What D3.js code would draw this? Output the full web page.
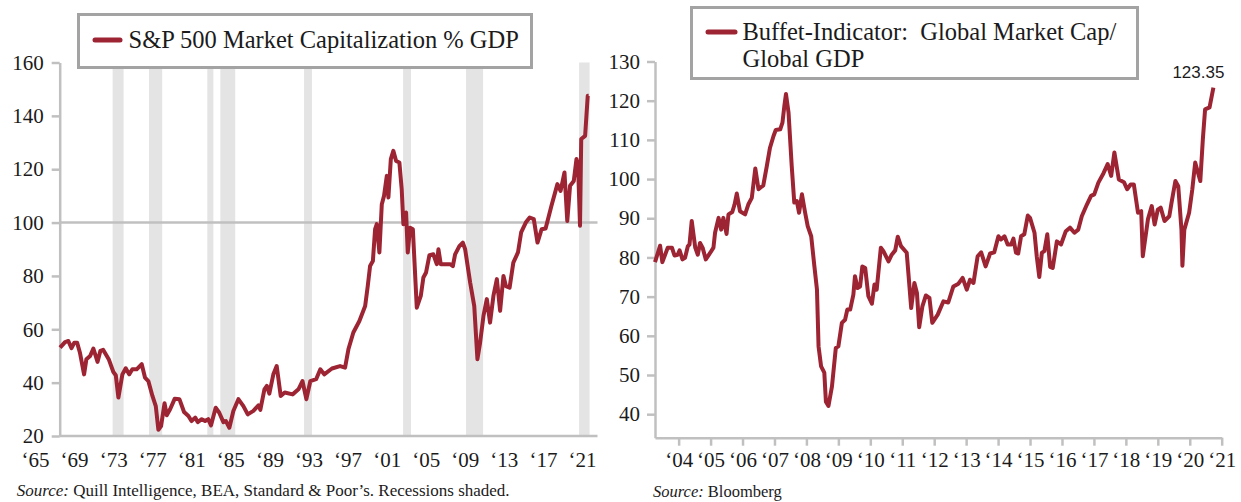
<!DOCTYPE html>
<html>
<head>
  <meta charset="utf-8">
  <title>Market cap to GDP</title>
  <script src="https://cdn.jsdelivr.net/npm/d3@7"></script>
  <style>
    body {
      margin: 0;
      background: #fff;
    }
    svg text {
      font-family: "Liberation Serif", "Times New Roman", serif;
      fill: #1b1b1b;
    }
  </style>
</head>
<body>
<svg id="chart" width="1241" height="502"></svg>
<script>
// ---- left panel: S&P 500 market cap % GDP
var spYears = [1964.27, 1964.8, 1965.16, 1965.5, 1965.8, 1966.1, 1966.4, 1966.85, 1967.1, 1967.5,
  1967.85, 1968.3, 1968.6, 1968.9, 1969.5, 1970.0, 1970.26, 1970.54, 1970.97, 1971.33,
  1971.7, 1972.04, 1972.5, 1973.05, 1973.4, 1973.76, 1974.2, 1974.56, 1974.84, 1975.13,
  1975.5, 1975.74, 1976.1, 1976.6, 1977.1, 1977.6, 1978.07, 1978.4, 1978.8, 1979.07,
  1979.5, 1979.86, 1980.2, 1980.5, 1981.0, 1981.37, 1981.83, 1982.1, 1982.47, 1982.9,
  1983.44, 1983.98, 1984.45, 1985.05, 1985.6, 1985.8, 1986.24, 1986.5, 1986.77, 1987.2,
  1987.56, 1987.99, 1988.42, 1989.27, 1989.9, 1990.33, 1990.75, 1991.18, 1991.8, 1992.25,
  1992.67, 1993.5, 1994.37, 1994.91, 1995.27, 1995.8, 1996.45, 1997.07, 1997.35, 1997.6,
  1997.9, 1998.14, 1998.32, 1998.6, 1998.86, 1999.1, 1999.4, 1999.57, 1999.83, 2000.1,
  2000.4, 2000.75, 2001.0, 2001.18, 2001.47, 2001.65, 2001.9, 2002.2, 2002.62, 2003.05,
  2003.33, 2003.62, 2003.98, 2004.4, 2004.77, 2004.95, 2005.2, 2006.2, 2006.5, 2006.74,
  2007.2, 2007.57, 2007.82, 2008.36, 2008.8, 2009.14, 2009.43, 2009.79, 2010.15, 2010.5,
  2010.86, 2011.23, 2011.58, 2011.94, 2012.2, 2012.6, 2013.0, 2013.5, 2013.84, 2014.34,
  2014.76, 2015.2, 2015.6, 2016.04, 2016.47, 2017.1, 2017.74, 2018.08, 2018.5, 2018.8,
  2019.1, 2019.5, 2019.79, 2019.96, 2020.17, 2020.3, 2020.72, 2021.0, 2021.1];
var spValues = [53.1, 55.2, 55.6, 52.9, 55, 55, 51.3, 43.1, 48.8, 50,
  52.8, 47.8, 51.9, 52.3, 48.8, 44, 42.8, 34.4, 43.1, 45.4,
  43.1, 45, 45, 46.9, 41.9, 40.6, 35, 31.2, 22.3, 23.7,
  32.3, 27.8, 30, 34, 33.8, 29, 27.5, 25.6, 26.9, 25.2,
  26.3, 25.6, 26.3, 24, 30.6, 28.8, 25.2, 25.6, 23.1, 29.4,
  33.8, 31.2, 28.1, 29.4, 31.5, 29.8, 37.5, 38.8, 35.9, 43.1,
  46.2, 35, 36.3, 35.6, 37.5, 40.6, 33.8, 40.6, 41.3, 45,
  43.1, 45.3, 46.2, 45.6, 52.5, 58.8, 63.1, 68.7, 76.2, 83.7,
  85.6, 97.5, 99.4, 88.8, 106.9, 110, 117.5, 109.4, 123.8, 126.9,
  123.1, 122.5, 112.5, 99.4, 103.8, 88.8, 98.1, 97.5, 68.1, 72.5,
  79.4, 81.3, 87.8, 88.1, 84.4, 90, 84.4, 84.4, 83.7, 88.1,
  91.2, 92.5, 90, 77.5, 68.7, 48.8, 55, 65, 71.3, 62.5,
  72.5, 78.8, 66.9, 80, 76.2, 75.6, 85, 88.8, 96.3, 100,
  101.9, 101.3, 92.5, 97.5, 97.8, 106.3, 114.4, 111.9, 118.8, 100.6,
  113.8, 115.6, 123.8, 121.3, 98.8, 131.3, 132.5, 147.5, 147.5];
var recessions = [[1969.92, 1971.1], [1973.83, 1975.25], [1980.1, 1980.75], [1981.5, 1983.1],
  [1990.5, 1991.35], [2001.15, 2002.0], [2007.92, 2009.75], [2020.07, 2021.2]];
var spTicks = [20, 40, 60, 80, 100, 120, 140, 160];
var spLabels = ["‘65", "‘69", "‘73", "‘77", "‘81", "‘85", "‘89", "‘93", "‘97", "‘01",
  "‘05", "‘09", "‘13", "‘17", "‘21"];

// ---- right panel: global market cap / global GDP
var bgYears = [2003.76, 2003.92, 2003.99, 2004.16, 2004.29, 2004.37, 2004.47, 2004.53, 2004.62, 2004.7,
  2004.79, 2004.84, 2004.91, 2005.02, 2005.1, 2005.17, 2005.25, 2005.35, 2005.49, 2005.59,
  2005.64, 2005.75, 2005.83, 2005.9, 2006.0, 2006.06, 2006.18, 2006.25, 2006.32, 2006.42,
  2006.58, 2006.68, 2006.79, 2006.9, 2007.0, 2007.15, 2007.26, 2007.36, 2007.47, 2007.54,
  2007.68, 2007.75, 2007.81, 2007.86, 2007.94, 2008.04, 2008.12, 2008.2, 2008.27, 2008.36,
  2008.46, 2008.54, 2008.65, 2008.75, 2008.83, 2008.88, 2008.96, 2009.06, 2009.11, 2009.19,
  2009.3, 2009.42, 2009.5, 2009.61, 2009.71, 2009.78, 2009.87, 2009.97, 2010.02, 2010.1,
  2010.18, 2010.25, 2010.34, 2010.44, 2010.55, 2010.63, 2010.7, 2010.83, 2010.91, 2011.07,
  2011.17, 2011.28, 2011.36, 2011.46, 2011.64, 2011.78, 2011.88, 2011.96, 2012.03, 2012.13,
  2012.24, 2012.35, 2012.44, 2012.61, 2012.79, 2012.94, 2013.1, 2013.26, 2013.39, 2013.52,
  2013.62, 2013.73, 2013.86, 2013.97, 2014.11, 2014.25, 2014.38, 2014.51, 2014.59, 2014.7,
  2014.8, 2014.91, 2014.98, 2015.06, 2015.13, 2015.22, 2015.32, 2015.43, 2015.5, 2015.64,
  2015.71, 2015.79, 2015.87, 2015.95, 2016.04, 2016.13, 2016.21, 2016.34, 2016.47, 2016.62,
  2016.75, 2016.89, 2017.01, 2017.12, 2017.28, 2017.41, 2017.51, 2017.64, 2017.8, 2017.93,
  2018.04, 2018.14, 2018.28, 2018.44, 2018.54, 2018.65, 2018.75, 2018.88, 2018.98, 2019.03,
  2019.19, 2019.31, 2019.4, 2019.5, 2019.59, 2019.71, 2019.86, 2019.93, 2020.05, 2020.14,
  2020.24, 2020.27, 2020.33, 2020.48, 2020.58, 2020.67, 2020.83, 2020.91, 2020.98, 2021.12,
  2021.24];
var bgValues = [78.8, 83, 78.8, 82.5, 82.5, 80.5, 80.7, 81.8, 79.5, 79.9,
  82.9, 83.3, 89.3, 82.5, 80.7, 83.7, 82.5, 79.5, 81.2, 82.5,
  86.3, 90.1, 87.1, 90.1, 86, 91, 91.6, 93.5, 96.3, 91.8,
  91, 93.5, 95.2, 102.7, 97.4, 98.4, 103.3, 108, 111, 112.5,
  112.7, 114.4, 118.7, 121.7, 117, 103.3, 94, 94.4, 91.4, 96.1,
  91.4, 88, 85.4, 77.7, 71.8, 57.3, 52.2, 50.6, 43.2, 42.1,
  47.1, 56.9, 57.3, 63.3, 64.1, 66.7, 66.7, 70.5, 75.2, 72.2,
  72.6, 77.7, 77.3, 70.1, 68.2, 73.1, 71.8, 82.5, 81.6, 79,
  80.7, 81.8, 85.3, 82.9, 81.2, 67.1, 73.5, 70.9, 62.2, 67.5,
  70.3, 69.7, 63.3, 65.4, 68.8, 68.5, 72.6, 73.3, 74.8, 71.8,
  74.3, 73.5, 80.3, 81.3, 77.7, 81, 81.3, 85.4, 84.6, 85.4,
  83.3, 83.3, 84.8, 81.2, 81, 85.4, 85.9, 90.7, 90.1, 86.3,
  80.3, 75, 81.2, 81.6, 85.9, 77.6, 77.3, 84.1, 83.3, 86.7,
  87.6, 86.3, 87.1, 90.5, 93.5, 95.7, 96.1, 99.1, 101.5, 103.8,
  100.8, 106.8, 99.9, 99.2, 97.4, 98.6, 98.6, 91.4, 91.8, 80.3,
  89.7, 93.1, 88.4, 92.2, 92.7, 89.3, 90.5, 94, 99.5, 98.2,
  87.1, 77.9, 87.1, 91.4, 97.4, 104.2, 99.5, 110.2, 117.8, 118.3,
  123.35];
var bgTicks = [40, 50, 60, 70, 80, 90, 100, 110, 120, 130];
var bgTickYears = [2004, 2005, 2006, 2007, 2008, 2009, 2010, 2011, 2012, 2013,
  2014, 2015, 2016, 2017, 2018, 2019, 2020, 2021];

var red = "#9d2433";
var axisGrey = "#c0c0c0";
var svg = d3.select("#chart");

function zip(xs, ys) {
  return xs.map(function(x, i) { return {year: x, value: ys[i]}; });
}

function styleAxis(g) {
  g.selectAll("path.domain").attr("stroke", axisGrey).attr("stroke-width", 2.5);
  g.selectAll(".tick line").attr("stroke", axisGrey).attr("stroke-width", 2.5);
  g.selectAll("text").attr("fill", "#1b1b1b").style("font-family", "Liberation Serif")
    .style("font-size", "21px");
}

// ================= left chart =================
var xL = d3.scaleLinear().domain([1964.23, 2022.05]).range([59.7, 597.5]);
var yL = d3.scaleLinear().domain([20, 160]).range([436, 62.5]);

var left = svg.append("g");

left.selectAll("rect.rec")
  .data(recessions)
  .enter().append("rect")
  .attr("class", "rec")
  .attr("x", function(d) { return xL(d[0]); })
  .attr("width", function(d) { return xL(d[1]) - xL(d[0]); })
  .attr("y", yL(160))
  .attr("height", yL(20) - yL(160))
  .attr("fill", "#e4e4e4");

// the 100 line
left.append("line")
  .attr("x1", xL.range()[0]).attr("x2", xL.range()[1])
  .attr("y1", yL(100)).attr("y2", yL(100))
  .attr("stroke", axisGrey).attr("stroke-width", 2.5);

// bottom axis line (no ticks on this one)
left.append("line")
  .attr("x1", xL.range()[0]).attr("x2", xL.range()[1])
  .attr("y1", yL(20)).attr("y2", yL(20))
  .attr("stroke", axisGrey).attr("stroke-width", 2.5);

var yAxisL = left.append("g")
  .attr("transform", "translate(" + xL.range()[0] + ",0)")
  .call(d3.axisLeft(yL).tickValues(spTicks).tickSizeInner(8).tickSizeOuter(0).tickPadding(8));
styleAxis(yAxisL);

// year labels are spread evenly, like a category axis
var labL = d3.scalePoint().domain(spLabels).range([35, 582]);
var xAxisL = left.append("g")
  .attr("transform", "translate(0," + yL(20) + ")")
  .call(d3.axisBottom(labL).tickSize(0));
xAxisL.select("path.domain").remove();
styleAxis(xAxisL);
xAxisL.selectAll("text").attr("dy", null).attr("y", 30.7);

left.append("path")
  .datum(zip(spYears, spValues))
  .attr("fill", "none")
  .attr("stroke", red)
  .attr("stroke-width", 4)
  .attr("stroke-linejoin", "round")
  .attr("d", d3.line().x(function(d) { return xL(d.year); }).y(function(d) { return yL(d.value); }));

// legend
left.append("rect")
  .attr("x", 78.5).attr("y", 14.5).attr("width", 453).attr("height", 53)
  .attr("fill", "#fff").attr("stroke", "#a3a3a3").attr("stroke-width", 3);
left.append("line")
  .attr("x1", 95).attr("x2", 120).attr("y1", 40).attr("y2", 40)
  .attr("stroke", red).attr("stroke-width", 5).attr("stroke-linecap", "round");
left.append("text")
  .attr("x", 128.5).attr("y", 48.3)
  .style("font-size", "24.5px")
  .text("S&P 500 Market Capitalization % GDP");

var srcL = left.append("text").attr("x", 16.7).attr("y", 496).style("font-size", "17px");
srcL.append("tspan").style("font-style", "italic").text("Source:");
srcL.append("tspan").text(" Quill Intelligence, BEA, Standard & Poor’s. Recessions shaded.");

// ================= right chart =================
var xR = d3.scaleLinear().domain([2003.76, 2021.5]).range([655, 1221.7]);
var yR = d3.scaleLinear().domain([34, 130]).range([437.7, 61.5]);

var right = svg.append("g");

var yAxisR = right.append("g")
  .attr("transform", "translate(" + xR.range()[0] + ",0)")
  .call(d3.axisLeft(yR).tickValues(bgTicks).tickSizeInner(8).tickSizeOuter(0).tickPadding(7));
styleAxis(yAxisR);

// year labels sit at mid-year
var xAxisR = right.append("g")
  .attr("transform", "translate(0," + yR(34) + ")")
  .call(d3.axisBottom(xR)
    .tickValues(bgTickYears.map(function(y) { return y + 0.5; }))
    .tickFormat(function(d) { return "‘" + String(Math.floor(d)).slice(2); })
    .tickSizeInner(8).tickSizeOuter(0));
styleAxis(xAxisR);
xAxisR.selectAll("text").attr("dy", null).attr("y", 29);

var bg = zip(bgYears, bgValues);
right.append("path")
  .datum(bg)
  .attr("fill", "none")
  .attr("stroke", red)
  .attr("stroke-width", 4)
  .attr("stroke-linejoin", "round")
  .attr("d", d3.line().x(function(d) { return xR(d.year); }).y(function(d) { return yR(d.value); }));

var last = bg[bg.length - 1];
right.append("text")
  .attr("x", xR(last.year) - 15).attr("y", yR(last.value) - 10)
  .attr("text-anchor", "middle")
  .style("font-family", "Liberation Sans, Arial, sans-serif")
  .style("font-size", "17px")
  .text(d3.format(".2f")(last.value));

right.append("rect")
  .attr("x", 691.5).attr("y", 7.5).attr("width", 446).attr("height", 71)
  .attr("fill", "#fff").attr("stroke", "#a3a3a3").attr("stroke-width", 3);
right.append("line")
  .attr("x1", 708).attr("x2", 735).attr("y1", 32).attr("y2", 32)
  .attr("stroke", red).attr("stroke-width", 5).attr("stroke-linecap", "round");
right.append("text")
  .attr("x", 742.5).attr("y", 39.5)
  .style("font-size", "24.5px").style("white-space", "pre")
  .text("Buffet-Indicator:  Global Market Cap/");
right.append("text")
  .attr("x", 742.5).attr("y", 66.5)
  .style("font-size", "24.5px")
  .text("Global GDP");

var srcR = right.append("text").attr("x", 653).attr("y", 497).style("font-size", "16.5px");
srcR.append("tspan").style("font-style", "italic").text("Source:");
srcR.append("tspan").text(" Bloomberg");
</script>
</body>
</html>
